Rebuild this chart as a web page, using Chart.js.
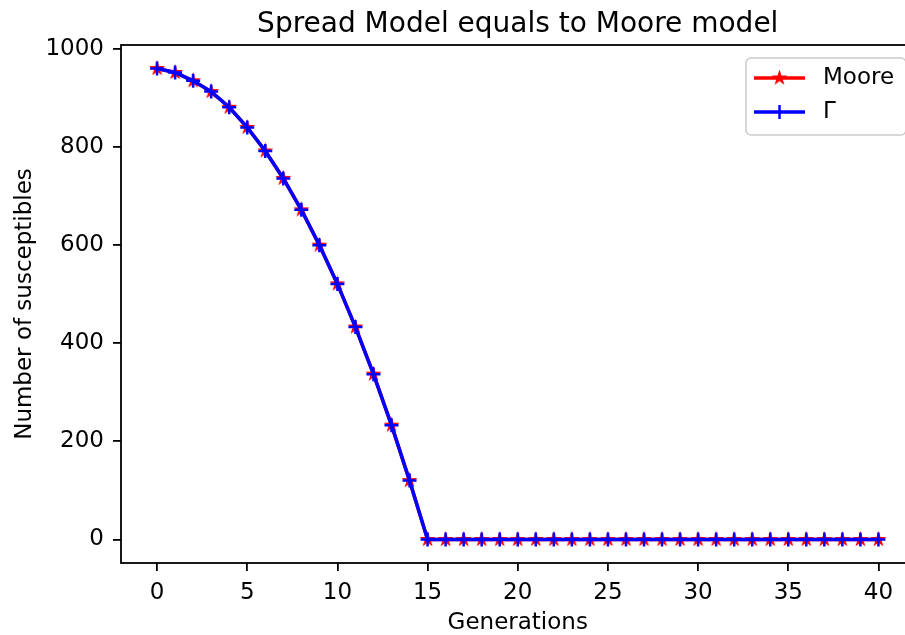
<!DOCTYPE html>
<html>
<head>
<meta charset="utf-8">
<script src="https://cdn.jsdelivr.net/npm/chart.js@4.4.1/dist/chart.umd.min.js"></script>
<style>
  html, body { margin: 0; padding: 0; background: #fff; overflow: hidden; }
  #wrap { width: 905px; height: 635px; overflow: hidden; }
  canvas { display: block; }
</style>
</head>
<body>
<div id="wrap"><canvas id="chart" width="925" height="635" style="width:925px;height:635px"></canvas></div>
<script>
// ---- data ---- //
const generations = Array.from({ length: 41 }, (_, i) => i);
const mooreValues = [960, 952, 935, 913, 881, 840, 792, 736, 672, 600, 521, 433, 337, 233, 120,
  0, 0, 0, 0, 0, 0, 0, 0, 0, 0, 0, 0, 0, 0, 0, 0, 0, 0, 0, 0, 0, 0, 0, 0, 0, 0];
const gammaValues = [960, 952, 935, 913, 881, 840, 792, 736, 672, 600, 521, 433, 337, 233, 120,
  0, 0, 0, 0, 0, 0, 0, 0, 0, 0, 0, 0, 0, 0, 0, 0, 0, 0, 0, 0, 0, 0, 0, 0, 0, 0];
const xTicks = [0, 5, 10, 15, 20, 25, 30, 35, 40];
const yTicks = [0, 200, 400, 600, 800, 1000];
const seriesNames = ["Moore", "Γ"];
const titleText = "Spread Model equals to Moore model";

const FONT = "'DejaVu Sans', sans-serif";

// --- filled star marker (matplotlib '*') ---
function makeStar(color, r) {
  const c = document.createElement("canvas");
  c.width = c.height = Math.ceil(r * 2 + 4);
  const g = c.getContext("2d");
  const cx = c.width / 2, cy = c.height / 2, ri = r * 0.381966;
  g.beginPath();
  for (let i = 0; i < 10; i++) {
    const rr = i % 2 ? ri : r;
    const a = -Math.PI / 2 + i * Math.PI / 5;
    g.lineTo(cx + rr * Math.cos(a), cy + rr * Math.sin(a));
  }
  g.closePath();
  g.fillStyle = color;
  g.fill();
  g.lineWidth = 1.2;
  g.strokeStyle = color;
  g.stroke();
  return c;
}
const starImg = makeStar("#ff0000", 6.5);

// --- title, frame and legend drawn on top ---
const decor = {
  id: "decor",
  afterDraw(chart) {
    const { ctx, chartArea: a } = chart;
    ctx.save();
    // axes frame
    ctx.strokeStyle = "#000";
    ctx.lineWidth = 1.8;
    ctx.strokeRect(a.left, a.top, a.right - a.left, a.bottom - a.top);
    // title
    ctx.fillStyle = "#000";
    ctx.font = "28px " + FONT;
    ctx.textAlign = "center";
    ctx.textBaseline = "alphabetic";
    ctx.fillText(titleText, (a.left + a.right) / 2, 32);
    // legend box
    const bx = 746, by = 58, bw = 160, bh = 77;
    ctx.beginPath();
    ctx.roundRect(bx, by, bw, bh, 5);
    ctx.fillStyle = "rgba(255,255,255,0.8)";
    ctx.fill();
    ctx.strokeStyle = "#cccccc";
    ctx.lineWidth = 1.6;
    ctx.stroke();
    const rows = [
      { y: 78, color: "#ff0000", marker: "star" },
      { y: 112, color: "#0000ff", marker: "plus" }
    ];
    rows.forEach((r, i) => {
      ctx.strokeStyle = r.color;
      ctx.lineWidth = 3.5;
      ctx.beginPath();
      ctx.moveTo(754, r.y);
      ctx.lineTo(805, r.y);
      ctx.stroke();
      if (r.marker === "star") {
        ctx.drawImage(starImg, 779.5 - starImg.width / 2, r.y - starImg.height / 2);
      } else {
        ctx.lineWidth = 2.5;
        ctx.beginPath();
        ctx.moveTo(779.5, r.y - 7);
        ctx.lineTo(779.5, r.y + 7);
        ctx.stroke();
      }
      ctx.fillStyle = "#000";
      ctx.font = "23px " + FONT;
      ctx.textAlign = "left";
      ctx.textBaseline = "middle";
      ctx.fillText(seriesNames[i], 823, r.y);
    });
    ctx.restore();
  }
};

new Chart(document.getElementById("chart"), {
  type: "line",
  data: {
    labels: generations,
    datasets: [
      {
        label: seriesNames[0],
        data: generations.map((g, i) => ({ x: g, y: mooreValues[i] })),
        borderColor: "#ff0000",
        backgroundColor: "#ff0000",
        borderWidth: 3.5,
        pointStyle: starImg,
        pointRadius: 7,
        order: 1
      },
      {
        label: seriesNames[1],
        data: generations.map((g, i) => ({ x: g, y: gammaValues[i] })),
        borderColor: "#0000ff",
        backgroundColor: "#0000ff",
        borderWidth: 3.5,
        pointStyle: "cross",
        pointRadius: 7,
        pointBorderWidth: 2.5,
        order: 0
      }
    ]
  },
  options: {
    responsive: false,
    animation: false,
    devicePixelRatio: 1,
    layout: { padding: { left: 0, top: 45, right: 9, bottom: 0 } },
    plugins: {
      legend: { display: false },
      title: { display: false },
      tooltip: { enabled: false }
    },
    scales: {
      x: {
        type: "linear",
        min: -2,
        max: 42,
        afterBuildTicks: s => { s.ticks = xTicks.map(v => ({ value: v })); },
        afterFit: s => { s.height = 72; },
        grid: { display: true, drawOnChartArea: false, drawTicks: true, tickLength: 8, color: "#000", lineWidth: 1.8 },
        border: { display: false },
        ticks: { color: "#000", font: { family: FONT, size: 23 }, padding: 8, maxRotation: 0, callback: v => String(v) },
        title: { display: true, text: "Generations", color: "#000", font: { family: FONT, size: 23 }, padding: { top: 0, bottom: -2 } }
      },
      y: {
        type: "linear",
        min: -48,
        max: 1008,
        afterBuildTicks: s => { s.ticks = yTicks.map(v => ({ value: v })); },
        afterFit: s => { s.width = 121; },
        grid: { display: true, drawOnChartArea: false, drawTicks: true, tickLength: 8, color: "#000", lineWidth: 1.8 },
        border: { display: false },
        ticks: { color: "#000", font: { family: FONT, size: 23 }, padding: 9, callback: v => String(v) },
        title: { display: true, text: "Number of susceptibles", color: "#000", font: { family: FONT, size: 23 }, padding: { top: 11, bottom: 0 } }
      }
    }
  },
  plugins: [decor]
});
</script>
</body>
</html>
